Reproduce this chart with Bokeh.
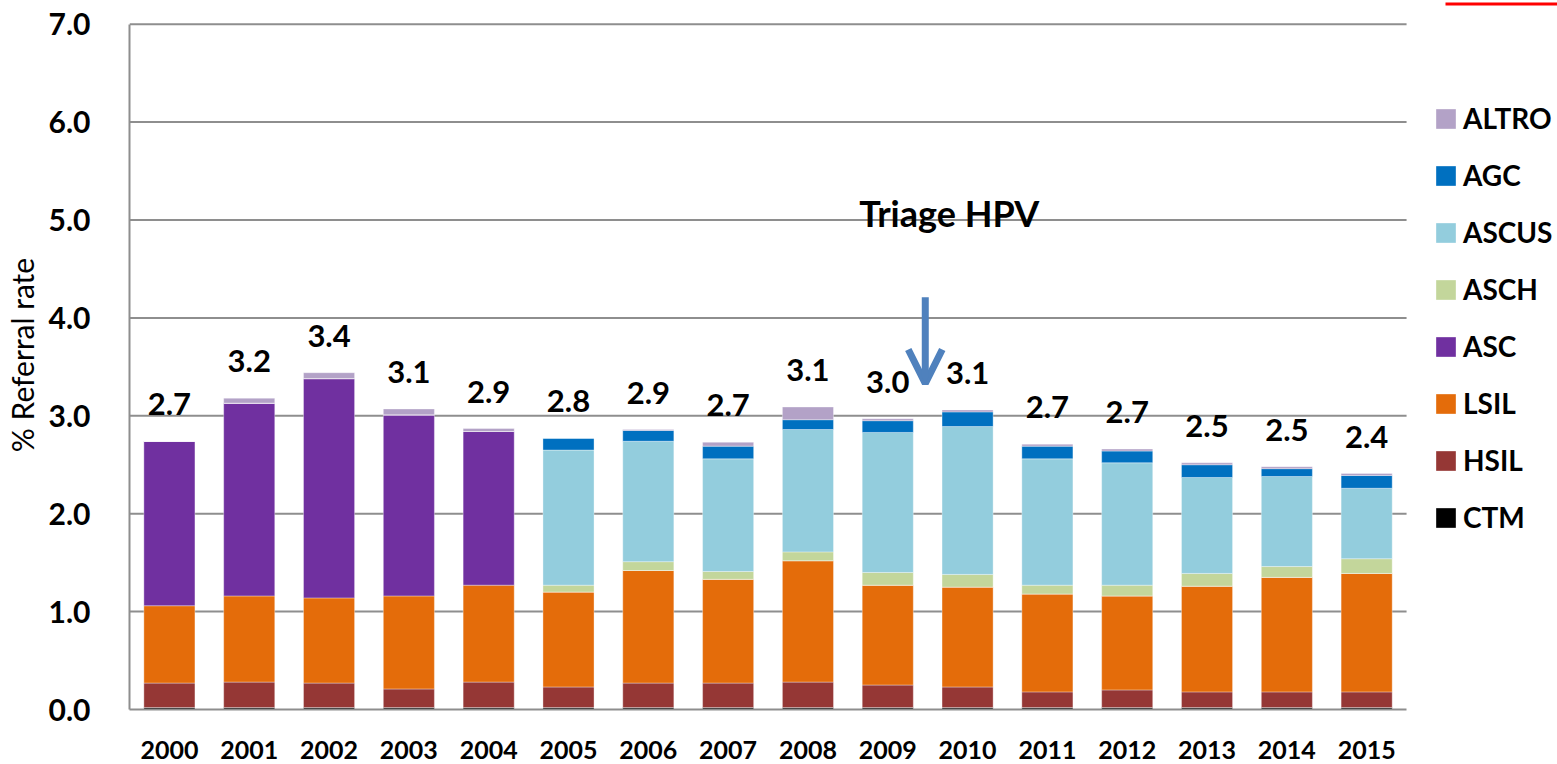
from bokeh.plotting import figure
from bokeh.models import (Range1d, FixedTicker, NumeralTickFormatter, Legend, LegendItem,
                          Label, Arrow, OpenHead, BoxAnnotation, ColumnDataSource)
from bokeh.core.properties import value
from bokeh.embed import file_html
from bokeh.resources import INLINE

years = ["2000", "2001", "2002", "2003", "2004", "2005", "2006", "2007",
         "2008", "2009", "2010", "2011", "2012", "2013", "2014", "2015"]

CTM = [0.02, 0.02, 0.02, 0.02, 0.02, 0.02, 0.02, 0.02, 0.02, 0.02, 0.02, 0.02, 0.02, 0.02, 0.02, 0.02]
HSIL = [0.25, 0.26, 0.25, 0.19, 0.26, 0.21, 0.25, 0.25, 0.26, 0.23, 0.21, 0.16, 0.18, 0.16, 0.16, 0.16]
LSIL = [0.79, 0.88, 0.87, 0.95, 0.99, 0.97, 1.15, 1.06, 1.24, 1.02, 1.02, 1.00, 0.96, 1.08, 1.17, 1.21]
ASC = [1.68, 1.97, 2.24, 1.85, 1.57, 0, 0, 0, 0, 0, 0, 0, 0, 0, 0, 0]
ASCH = [0, 0, 0, 0, 0, 0.07, 0.09, 0.08, 0.09, 0.13, 0.13, 0.09, 0.11, 0.13, 0.11, 0.15]
ASCUS = [0, 0, 0, 0, 0, 1.38, 1.23, 1.15, 1.25, 1.43, 1.51, 1.29, 1.25, 0.98, 0.92, 0.72]
AGC = [0, 0, 0, 0, 0, 0.12, 0.11, 0.13, 0.10, 0.12, 0.15, 0.13, 0.12, 0.13, 0.08, 0.13]
ALTRO = [0.00, 0.05, 0.06, 0.06, 0.03, 0.00, 0.01, 0.04, 0.13, 0.02, 0.02, 0.02, 0.02, 0.02, 0.02, 0.02]

total_labels = ["2.7", "3.2", "3.4", "3.1", "2.9", "2.8", "2.9", "2.7",
                "3.1", "3.0", "3.1", "2.7", "2.7", "2.5", "2.5", "2.4"]

series_names = ["CTM", "HSIL", "LSIL", "ASC", "ASCH", "ASCUS", "AGC", "ALTRO"]
series_values = [CTM, HSIL, LSIL, ASC, ASCH, ASCUS, AGC, ALTRO]
series_colors = ["#000000", "#953735", "#E46C0A", "#7030A0", "#C3D69B", "#93CDDD", "#0070C0", "#B3A2C7"]

y_ticks = [0, 1, 2, 3, 4, 5, 6, 7]

FONT = "Lato"
GRID = "#8E8E8E"

n_cat = len(years)
x_centers = [i + 0.5 for i in range(n_cat)]

data = {"x": x_centers, "year": years}
for n, v in zip(series_names, series_values):
    data[n] = v
data["total"] = [sum(vals) for vals in zip(*series_values)]
data["label"] = total_labels
source = ColumnDataSource(data)

# frame spans the whole width to the right (room for the legend) and up to the top edge;
# the category area is 0..16 and the value axis 0..7
p = figure(width=1557, height=764, x_range=Range1d(0, 17.891), y_range=Range1d(0, 7.242),
           output_backend="svg", toolbar_location=None,
           min_border_left=128, min_border_right=0, min_border_top=0, min_border_bottom=55)
p.outline_line_color = None
p.background_fill_color = "white"
p.xgrid.grid_line_color = None
p.ygrid.grid_line_color = None

# horizontal gridlines limited to the category area
p.segment(x0=0, x1=n_cat, y0=y_ticks[1:], y1=y_ticks[1:], line_color=GRID, line_width=2)

renderers = p.vbar_stack(series_names, x="x", width=0.64, source=source,
                         fill_color=series_colors, line_color="white", line_width=0.5, line_alpha=0.7)

p.text(x="x", y="total", text="label", source=source, text_align="center", text_baseline="middle",
       y_offset=-37, text_font=value(FONT), text_font_style="bold", text_font_size="31px", text_color="black")

# axes
p.yaxis.ticker = FixedTicker(ticks=y_ticks)
p.yaxis.formatter = NumeralTickFormatter(format="0.0")
p.yaxis.bounds = (0, 7)
p.yaxis.major_tick_line_color = None
p.yaxis.minor_tick_line_color = None
p.yaxis.axis_line_color = GRID
p.yaxis.axis_line_width = 2
p.yaxis.major_label_text_font = FONT
p.yaxis.major_label_text_font_style = "bold"
p.yaxis.major_label_text_font_size = "30px"
p.yaxis.major_label_text_color = "black"
p.yaxis.major_label_standoff = 33
p.yaxis.axis_label = "% Referral rate"
p.yaxis.axis_label_text_font = FONT
p.yaxis.axis_label_text_font_style = "normal"
p.yaxis.axis_label_text_font_size = "30px"
p.yaxis.axis_label_text_color = "black"
p.yaxis.axis_label_standoff = 6

p.xaxis.ticker = FixedTicker(ticks=x_centers)
p.xaxis.major_label_overrides = {x: y for x, y in zip(x_centers, years)}
p.xaxis.bounds = (0, n_cat)
p.xaxis.major_tick_line_color = None
p.xaxis.minor_tick_line_color = None
p.xaxis.axis_line_color = GRID
p.xaxis.axis_line_width = 2
p.xaxis.major_label_text_font = FONT
p.xaxis.major_label_text_font_style = "bold"
p.xaxis.major_label_text_font_size = "25px"
p.xaxis.major_label_text_color = "black"
p.xaxis.major_label_standoff = 25

# legend
items = [LegendItem(label=n, renderers=[r]) for n, r in zip(series_names, renderers)][::-1]
legend = Legend(items=items, location=(1304, 175), orientation="vertical",
                glyph_width=25, glyph_height=25, label_height=34, spacing=23, padding=0, margin=0,
                label_standoff=5, border_line_color=None, background_fill_alpha=0,
                label_text_font=FONT, label_text_font_style="bold", label_text_font_size="28px",
                label_text_color="black")
p.add_layout(legend)

# annotation
p.add_layout(Label(x=10.27, y=5.07, text="Triage HPV", text_align="center", text_baseline="middle",
                   text_font=FONT, text_font_style="bold", text_font_size="36px", text_color="black"))
p.add_layout(Arrow(x_start=9.97, y_start=4.21, x_end=9.97, y_end=3.33,
                   line_color="#4F81BD", line_width=7,
                   end=OpenHead(size=34, line_color="#4F81BD", line_width=7)))

# small red rule in the top-right corner
p.add_layout(BoxAnnotation(left=1316, right=1429, top=707, bottom=704,
                           left_units="screen", right_units="screen", top_units="screen", bottom_units="screen",
                           fill_color="#FF0000", fill_alpha=1, line_color=None))

open("out.html", "w").write(file_html(p, INLINE))
